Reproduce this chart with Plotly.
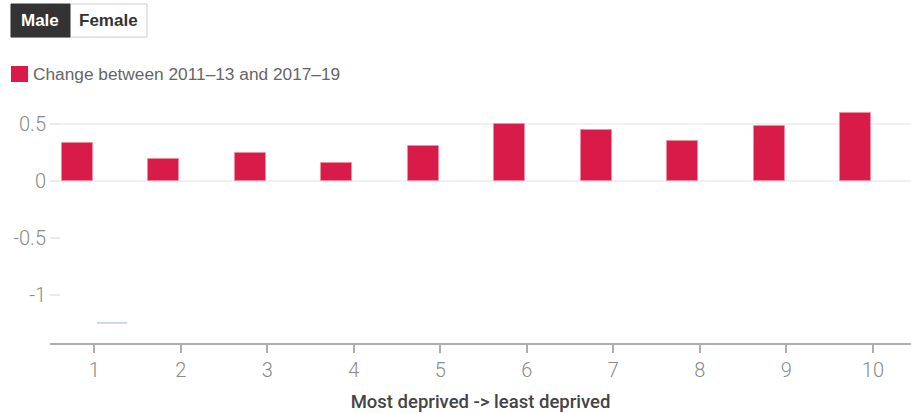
import plotly.graph_objects as go

# Deprivation deciles (1 = most deprived, 10 = least deprived)
deciles = [1, 2, 3, 4, 5, 6, 7, 8, 9, 10]
# Change in male life expectancy between 2011–13 and 2017–19 (years)
male_change = [0.33, 0.19, 0.25, 0.16, 0.31, 0.50, 0.45, 0.35, 0.48, 0.60]

series_name = "Change between 2011–13 and 2017–19"
y_ticks = [0.5, 0, -0.5, -1]
y_ticktext = ["0.5", "0", "-0.5", "-1"]
grid_values = [0.5, 0]

# short reference stroke near the bottom-left of the plot
ref_x = [1.03, 1.38]
ref_y = [-1.245, -1.245]

BAR = "#d81b48"
SANS = "Liberation Sans"
TICK_FONT = dict(family="Roboto", size=20, color="#8a8a8a", weight=300)

fig = go.Figure()
fig.add_trace(go.Bar(
    x=deciles, y=male_change, name=series_name,
    marker=dict(color=BAR, line=dict(color="rgba(240,140,160,0.8)", width=1)),
    width=0.355, offset=-0.375, showlegend=False,
))
fig.add_trace(go.Scatter(
    x=ref_x, y=ref_y, mode="lines",
    line=dict(color="#8fbbdc", width=1), showlegend=False, hoverinfo="skip",
))

for g in grid_values:
    fig.add_shape(type="line", xref="paper", x0=0, x1=1, yref="y", y0=g, y1=g,
                  line=dict(color="#e9ede9", width=1.5), layer="below")

fig.update_layout(
    width=911, height=413,
    margin=dict(l=50, r=0, t=100, b=70, autoexpand=False),
    paper_bgcolor="white", plot_bgcolor="white",
    bargap=0,
    xaxis=dict(
        range=[0.488, 10.44], tickvals=deciles, ticktext=[str(d) for d in deciles],
        showgrid=False, zeroline=False, automargin=False,
        showline=True, linecolor="#b0adaa", linewidth=2,
        ticks="outside", ticklen=8, tickwidth=2, tickcolor="#b0adaa",
        tickfont=TICK_FONT,
        title=dict(text="Most deprived -> least deprived", standoff=20,
                   font=dict(family="Roboto", size=18.5, color="#444444", weight=500)),
    ),
    yaxis=dict(
        range=[-1.421, 0.711], tickvals=y_ticks, ticktext=y_ticktext,
        showgrid=False, zeroline=False, showline=False, automargin=False,
        ticks="inside", ticklen=10, tickwidth=1.5, tickcolor="#e9ede9",
        tickfont=TICK_FONT, ticklabelstandoff=3,
    ),
)

# Male / Female toggle
fig.add_shape(type="rect", xref="paper", yref="paper", x0=0.0232, x1=0.1127,
              y0=1.259, y1=1.395, line=dict(color="#cccccc", width=1),
              fillcolor="white", layer="below")
fig.add_shape(type="rect", xref="paper", yref="paper", x0=-0.0453, x1=0.0232,
              y0=1.259, y1=1.395, line=dict(color="#333333", width=1),
              fillcolor="#333333", layer="below")
fig.add_annotation(text="<b>Male</b>", xref="paper", yref="paper", x=-0.0112, y=1.327,
                   xanchor="center", yanchor="middle", showarrow=False,
                   font=dict(family=SANS, size=17, color="white"))
fig.add_annotation(text="<b>Female</b>", xref="paper", yref="paper", x=0.068, y=1.327,
                   xanchor="center", yanchor="middle", showarrow=False,
                   font=dict(family=SANS, size=17, color="#333333"))

# Legend entry
fig.add_shape(type="rect", xref="paper", yref="paper", x0=-0.0453, x1=-0.0255,
              y0=1.074, y1=1.14, line=dict(width=0), fillcolor=BAR, layer="below")
fig.add_annotation(text=series_name, xref="paper", yref="paper", x=-0.022, y=1.107,
                   xanchor="left", yanchor="middle", showarrow=False,
                   font=dict(family=SANS, size=17.3, color="#666666"))

fig.write_html("out.html")
